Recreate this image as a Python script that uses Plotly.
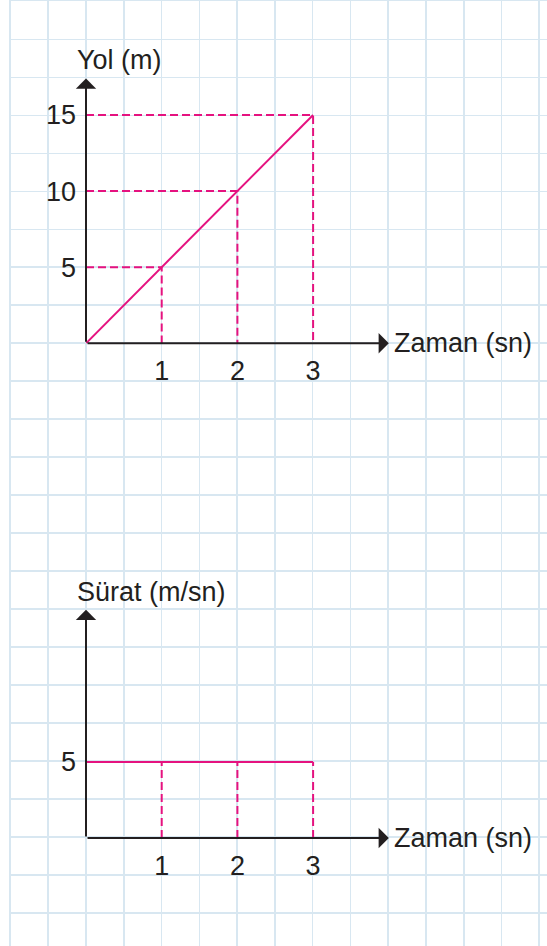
import plotly.graph_objects as go

# ---- data ----
time_s = [0, 1, 2, 3]
distance_m = [0, 5, 10, 15]
speed_ms = [5, 5, 5, 5]
x_ticks = [1, 2, 3]
dist_ticks = [5, 10, 15]
speed_ticks = [5]
x_title = "Zaman (sn)"
dist_title = "Yol (m)"
speed_title = "Sürat (m/sn)"

# ---- styling / layout constants ----
W, H = 547, 946
PINK = "#e5127f"
INK = "#231f20"
GRID = "#d8e7f1"
FONT = "Liberation Sans, Arial, Helvetica, sans-serif"
FS = 27

X_UNIT = 75.7   # px per second
Y_UNIT = 15.22  # px per unit on vertical axes
X_TIP = 4
TOP_Y_TIP = 17.4
BOT_Y_TIP = 15
TOP_ORIGIN = (86, 343.3)
BOT_ORIGIN = (86, 838)
CELL_X, CELL_Y = 37.77, 38.0
GRID_LEFT, GRID_TOP = 10.5, 1.3


def px_x(p):
    return p / W


def px_y(p):
    return 1 - p / H


fig = go.Figure()

# background grid subplot (x / y)
fig.add_trace(go.Scatter(x=[None], y=[None], xaxis="x", yaxis="y",
                         showlegend=False, hoverinfo="skip"))

# ---- top chart (x2 / y2) ----
for t, d in zip(time_s[1:], distance_m[1:]):
    fig.add_trace(go.Scatter(x=[0, t, t], y=[d, d, 0], mode="lines",
                             line=dict(color=PINK, width=2, dash="8px,4px"),
                             xaxis="x2", yaxis="y2", showlegend=False,
                             hoverinfo="skip"))
fig.add_trace(go.Scatter(x=time_s, y=distance_m, mode="lines",
                         line=dict(color=PINK, width=2),
                         xaxis="x2", yaxis="y2", showlegend=False))

# ---- bottom chart (x3 / y3) ----
for t, v in zip(time_s[1:], speed_ms[1:]):
    fig.add_trace(go.Scatter(x=[t, t], y=[0, v], mode="lines",
                             line=dict(color=PINK, width=2, dash="8px,4px"),
                             xaxis="x3", yaxis="y3", showlegend=False,
                             hoverinfo="skip"))
fig.add_trace(go.Scatter(x=time_s, y=speed_ms, mode="lines",
                         line=dict(color=PINK, width=2),
                         xaxis="x3", yaxis="y3", showlegend=False))

grid_xmax = (W - GRID_LEFT) / CELL_X
grid_ymax = (H - GRID_TOP) / CELL_Y

tickfont = dict(family=FONT, size=FS, color=INK)

fig.update_layout(
    width=W, height=H,
    margin=dict(l=0, r=0, t=0, b=0),
    paper_bgcolor="white",
    plot_bgcolor="rgba(0,0,0,0)",
    showlegend=False,
    xaxis=dict(domain=[px_x(GRID_LEFT), 1], range=[0, grid_xmax],
               tick0=0, dtick=1, showgrid=True, gridcolor=GRID, gridwidth=1.6,
               zeroline=False, showticklabels=False, ticks="",
               showline=True, linecolor=GRID, linewidth=1.6, side="top",
               fixedrange=True),
    yaxis=dict(domain=[0, px_y(GRID_TOP)], range=[grid_ymax, 0],
               tick0=0, dtick=1, showgrid=True, gridcolor=GRID, gridwidth=1.6,
               zeroline=False, showticklabels=False, ticks="",
               showline=True, linecolor=GRID, linewidth=1.6,
               fixedrange=True),
    xaxis2=dict(domain=[px_x(TOP_ORIGIN[0]), px_x(TOP_ORIGIN[0] + X_TIP * X_UNIT)],
                range=[0, X_TIP], anchor="y2", showgrid=False, zeroline=False,
                showline=False, tickvals=x_ticks, ticks="", tickfont=tickfont,
                ticklabelstandoff=9),
    yaxis2=dict(domain=[px_y(TOP_ORIGIN[1]), px_y(TOP_ORIGIN[1] - TOP_Y_TIP * Y_UNIT)],
                range=[0, TOP_Y_TIP], anchor="x2", showgrid=False, zeroline=False,
                showline=False, tickvals=dist_ticks, ticks="", tickfont=tickfont,
                ticklabelstandoff=9),
    xaxis3=dict(domain=[px_x(BOT_ORIGIN[0]), px_x(BOT_ORIGIN[0] + X_TIP * X_UNIT)],
                range=[0, X_TIP], anchor="y3", showgrid=False, zeroline=False,
                showline=False, tickvals=x_ticks, ticks="", tickfont=tickfont,
                ticklabelstandoff=9),
    yaxis3=dict(domain=[px_y(BOT_ORIGIN[1]), px_y(BOT_ORIGIN[1] - BOT_Y_TIP * Y_UNIT)],
                range=[0, BOT_Y_TIP], anchor="x3", showgrid=False, zeroline=False,
                showline=False, tickvals=speed_ticks, ticks="", tickfont=tickfont,
                ticklabelstandoff=9),
)

# axis arrows
arrow = dict(showarrow=True, arrowhead=1, arrowsize=1.7, arrowwidth=2,
             arrowcolor=INK, text="", standoff=0, startstandoff=0)
for xa, ya, ytip in (("x2", "y2", TOP_Y_TIP), ("x3", "y3", BOT_Y_TIP)):
    fig.add_annotation(x=X_TIP, y=0, ax=0, ay=0, xref=xa, yref=ya,
                       axref=xa, ayref=ya, **arrow)
    fig.add_annotation(x=0, y=ytip, ax=0, ay=0, xref=xa, yref=ya,
                       axref=xa, ayref=ya, **arrow)

labfont = dict(family=FONT, size=FS, color=INK)
# x-axis titles (right of arrow tips)
for xa, ya in (("x2", "y2"), ("x3", "y3")):
    fig.add_annotation(x=X_TIP, y=0, xref=xa, yref=ya, text=x_title,
                       showarrow=False, xanchor="left", yanchor="middle",
                       xshift=3, font=labfont)
# y-axis titles (above arrow tips)
fig.add_annotation(x=0, y=TOP_Y_TIP, xref="x2", yref="y2", text=dist_title,
                   showarrow=False, xanchor="left", yanchor="bottom",
                   xshift=-11, yshift=1, font=labfont)
fig.add_annotation(x=0, y=BOT_Y_TIP, xref="x3", yref="y3", text=speed_title,
                   showarrow=False, xanchor="left", yanchor="bottom",
                   xshift=-11, yshift=1, font=labfont)

fig.write_html("out.html",
               config={"displayModeBar": False, "staticPlot": True},
               post_script="document.body.style.margin='0';"
                           "document.body.style.overflow='hidden';")
